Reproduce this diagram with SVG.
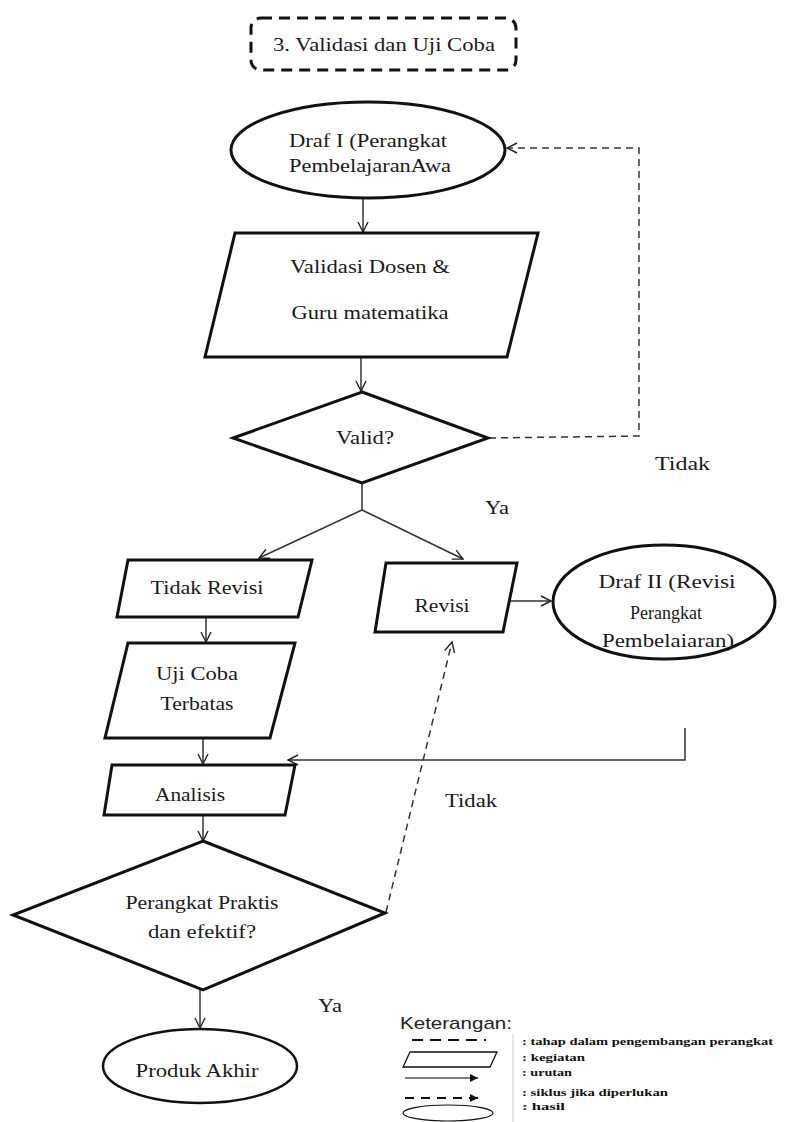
<svg xmlns="http://www.w3.org/2000/svg" width="798" height="1122" viewBox="0 0 798 1122">
<defs>
<marker id="open" markerUnits="userSpaceOnUse" markerWidth="14" markerHeight="14" refX="11" refY="6" orient="auto">
<path d="M1,1 L11,6 L1,11" fill="none" stroke="#222" stroke-width="1.4"/>
</marker>
<marker id="solid" markerUnits="userSpaceOnUse" markerWidth="10" markerHeight="10" refX="8" refY="4" orient="auto">
<path d="M0,0 L8,4 L0,8 Z" fill="#111"/>
</marker>
</defs>
<style>
.shape{fill:#fff;stroke:#111;stroke-width:3}
.t{font-family:"Liberation Serif","Times New Roman",serif;font-size:18px;fill:#1a1a1a;text-anchor:middle}
.lbl{font-family:"Liberation Serif","Times New Roman",serif;font-size:18px;fill:#1a1a1a}
.c{fill:none;stroke:#333;stroke-width:1.5}
.d{fill:none;stroke:#333;stroke-width:1.5;stroke-dasharray:7,5}
.lg{font-family:"Liberation Serif","Times New Roman",serif;font-size:10px;font-weight:bold;fill:#111}
</style>
<rect width="798" height="1122" fill="#fff"/>

<g id="title">
<rect x="251" y="18" width="265" height="52" rx="10" fill="none" stroke="#111" stroke-width="3" stroke-dasharray="11,7"/>
<text class="t" x="384" y="51" textLength="222" lengthAdjust="spacingAndGlyphs">3. Validasi dan Uji Coba</text>
</g>

<g id="connectors">
<line class="c" x1="363" y1="198" x2="363" y2="232" marker-end="url(#open)"/>
<line class="c" x1="361" y1="358" x2="361" y2="391" marker-end="url(#open)"/>
<polyline class="d" points="489,438 639,436 639,148 507,148" marker-end="url(#open)"/>
<polyline class="c" points="362,483 362,510 259,558" marker-end="url(#open)"/>
<line class="c" x1="362" y1="510" x2="463" y2="559" marker-end="url(#open)"/>
<line class="c" x1="206" y1="617" x2="206" y2="642" marker-end="url(#open)"/>
<line class="c" x1="203" y1="738" x2="203" y2="764" marker-end="url(#open)"/>
<line class="c" x1="508" y1="601" x2="551" y2="601" marker-end="url(#open)"/>
<polyline class="c" points="685,728 685,760 288,760" marker-end="url(#open)"/>
<line class="c" x1="203" y1="815" x2="203" y2="841" marker-end="url(#open)"/>
<line class="d" x1="386" y1="912" x2="452" y2="642" marker-end="url(#open)"/>
<line class="c" x1="200" y1="990" x2="200" y2="1028" marker-end="url(#open)"/>
</g>

<g id="draf1">
<ellipse class="shape" cx="368" cy="150" rx="137" ry="48"/>
<text class="t" x="368" y="147" textLength="158" lengthAdjust="spacingAndGlyphs">Draf I (Perangkat</text>
<text class="t" x="370" y="172" textLength="162" lengthAdjust="spacingAndGlyphs">PembelajaranAwa</text>
</g>

<g id="validasi">
<polygon class="shape" points="235,233 538,233 507,357 205,357"/>
<text class="t" x="370" y="273" textLength="160" lengthAdjust="spacingAndGlyphs">Validasi Dosen &amp;</text>
<text class="t" x="370" y="319" textLength="157" lengthAdjust="spacingAndGlyphs">Guru matematika</text>
</g>

<g id="valid">
<polygon class="shape" points="362,392 488,438 362,483 233,438"/>
<text class="t" x="365" y="444" textLength="58" lengthAdjust="spacingAndGlyphs">Valid?</text>
</g>

<g id="labels">
<text class="lbl" x="655" y="470" textLength="55" lengthAdjust="spacingAndGlyphs">Tidak</text>
<text class="lbl" x="485" y="514" textLength="24" lengthAdjust="spacingAndGlyphs">Ya</text>
<text class="lbl" x="445" y="807" textLength="52" lengthAdjust="spacingAndGlyphs">Tidak</text>
<text class="lbl" x="318" y="1012" textLength="24" lengthAdjust="spacingAndGlyphs">Ya</text>
</g>

<g id="tidak-revisi">
<polygon class="shape" points="128,560 312,560 298,617 117,617"/>
<text class="t" x="207" y="594" textLength="113" lengthAdjust="spacingAndGlyphs">Tidak Revisi</text>
</g>

<g id="revisi">
<polygon class="shape" points="386,563 517,563 503,632 375,632"/>
<text class="t" x="442" y="612" textLength="55" lengthAdjust="spacingAndGlyphs">Revisi</text>
</g>

<g id="draf2">
<ellipse class="shape" cx="664" cy="602" rx="111" ry="57"/>
<text class="t" x="667" y="588" textLength="137" lengthAdjust="spacingAndGlyphs">Draf II (Revisi</text>
<text class="t" x="666" y="619">Perangkat</text>
<text class="t" x="668" y="647" textLength="132" lengthAdjust="spacingAndGlyphs">Pembelaiaran)</text>
</g>

<g id="uji-coba">
<polygon class="shape" points="128,643 295,643 270,738 105,738"/>
<text class="t" x="197" y="680" textLength="82" lengthAdjust="spacingAndGlyphs">Uji Coba</text>
<text class="t" x="197" y="710" textLength="73" lengthAdjust="spacingAndGlyphs">Terbatas</text>
</g>

<g id="analisis">
<polygon class="shape" points="112,765 295,765 285,815 104,815"/>
<text class="t" x="190" y="801" textLength="70" lengthAdjust="spacingAndGlyphs">Analisis</text>
</g>

<g id="praktis">
<polygon class="shape" points="203,841 385,913 203,990 13,915"/>
<text class="t" x="202" y="909" textLength="153" lengthAdjust="spacingAndGlyphs">Perangkat Praktis</text>
<text class="t" x="202" y="938" textLength="108" lengthAdjust="spacingAndGlyphs">dan efektif?</text>
</g>

<g id="produk">
<ellipse cx="200" cy="1066" rx="97" ry="37" fill="#fff" stroke="#111" stroke-width="2.5"/>
<text class="t" x="197" y="1077" textLength="123" lengthAdjust="spacingAndGlyphs">Produk Akhir</text>
</g>

<g id="legend">
<text x="400" y="1029" font-family="'Liberation Sans',Arial,sans-serif" font-size="17" fill="#222" textLength="112" lengthAdjust="spacingAndGlyphs">Keterangan:</text>
<line x1="513" y1="1034" x2="513" y2="1122" stroke="#ccc" stroke-width="1"/>
<line x1="412" y1="1040" x2="486" y2="1040" stroke="#111" stroke-width="2" stroke-dasharray="11,7"/>
<polygon points="410,1052 497,1052 490,1067 403,1067" fill="none" stroke="#111" stroke-width="1.3"/>
<line x1="405" y1="1078" x2="478" y2="1078" stroke="#555" stroke-width="1.5" marker-end="url(#solid)"/>
<line x1="405" y1="1098" x2="478" y2="1098" stroke="#111" stroke-width="2" stroke-dasharray="9,7" marker-end="url(#solid)"/>
<ellipse cx="448" cy="1113" rx="45" ry="8" fill="none" stroke="#111" stroke-width="1.2"/>
<text class="lg" x="522" y="1045" textLength="251" lengthAdjust="spacingAndGlyphs">: tahap dalam pengembangan perangkat</text>
<text class="lg" x="522" y="1061" textLength="63" lengthAdjust="spacingAndGlyphs">: kegiatan</text>
<text class="lg" x="522" y="1076" textLength="50" lengthAdjust="spacingAndGlyphs">: urutan</text>
<text class="lg" x="522" y="1096" textLength="146" lengthAdjust="spacingAndGlyphs">: siklus jika diperlukan</text>
<text class="lg" x="522" y="1110" textLength="43" lengthAdjust="spacingAndGlyphs">: hasil</text>
</g>
</svg>
